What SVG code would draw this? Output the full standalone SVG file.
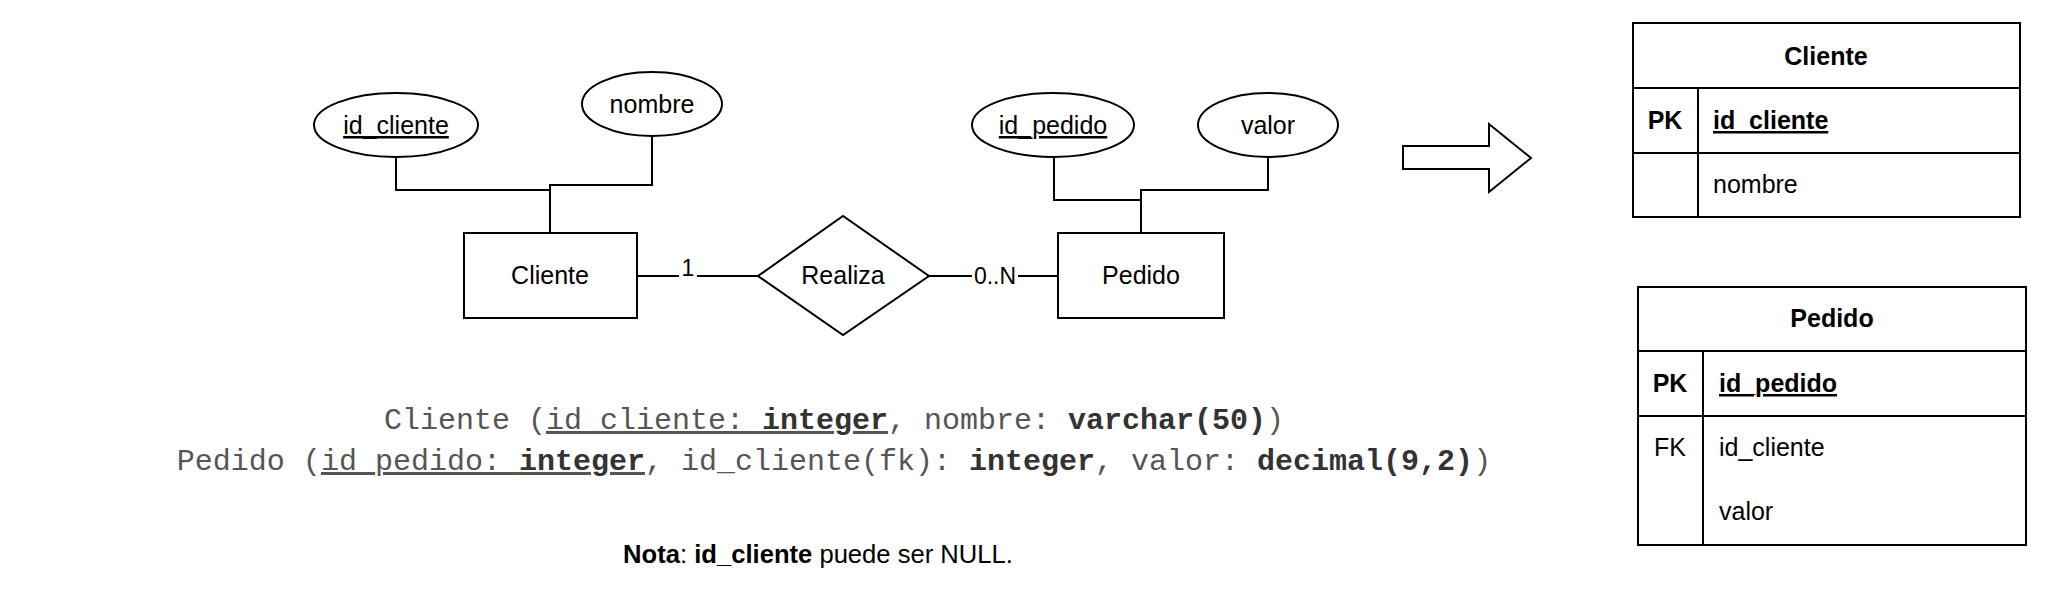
<svg xmlns="http://www.w3.org/2000/svg" width="2048" height="610" viewBox="0 0 2048 610">
<style>
.s{fill:#fff;stroke:#000;stroke-width:2}
.ln{fill:none;stroke:#000;stroke-width:2}
.t{font-family:"Liberation Sans",Arial,sans-serif;font-size:25px;fill:#000}
.c{text-anchor:middle}
.b{font-weight:bold}
.u{text-decoration:underline}
.lbl{font-family:"Liberation Sans",Arial,sans-serif;font-size:23px;fill:#000;text-anchor:middle}
.m{font-family:"Liberation Mono","Courier New",monospace;font-size:30px;fill:#555;text-anchor:middle}
.mb{font-weight:bold;fill:#333}
</style>
<rect width="2048" height="610" fill="#fff"/>
<g id="connectors">
<polyline class="ln" points="396,157 396,190 550,190 550,233"/>
<polyline class="ln" points="652,136 652,185 550,185 550,233"/>
<polyline class="ln" points="1054,157 1054,200 1141,200 1141,233"/>
<polyline class="ln" points="1268,157 1268,190 1141,190 1141,233"/>
<line class="ln" x1="637" y1="276" x2="758" y2="276"/>
<line class="ln" x1="929" y1="276" x2="1058" y2="276"/>
<rect x="679" y="262" width="18" height="26" fill="#fff"/>
<text class="lbl" x="688" y="276">1</text>
<rect x="972" y="264" width="46" height="24" fill="#fff"/>
<text class="lbl" x="995" y="284">0..N</text>
</g>
<g id="attr-id_cliente">
<ellipse class="s" cx="396" cy="125" rx="82" ry="32"/>
<text class="t c u" x="396" y="134">id_cliente</text>
</g>
<g id="attr-nombre">
<ellipse class="s" cx="652" cy="104" rx="70" ry="32"/>
<text class="t c" x="652" y="113">nombre</text>
</g>
<g id="entity-cliente">
<rect class="s" x="464" y="233" width="173" height="85"/>
<text class="t c" x="550" y="284">Cliente</text>
</g>
<g id="rel-realiza">
<polygon class="s" points="758,276 843,216 929,276 843,335"/>
<text class="t c" x="843" y="284">Realiza</text>
</g>
<g id="attr-id_pedido">
<ellipse class="s" cx="1053" cy="125" rx="81" ry="32"/>
<text class="t c u" x="1053" y="134">id_pedido</text>
</g>
<g id="attr-valor">
<ellipse class="s" cx="1268" cy="125" rx="70" ry="32"/>
<text class="t c" x="1268" y="134">valor</text>
</g>
<g id="entity-pedido">
<rect class="s" x="1058" y="233" width="166" height="85"/>
<text class="t c" x="1141" y="284">Pedido</text>
</g>
<g id="schema-text">
<text class="m" x="834" y="429">Cliente (<tspan class="u">id_cliente: <tspan class="mb">integer</tspan></tspan>, nombre: <tspan class="mb">varchar(50)</tspan>)</text>
<text class="m" x="834" y="470">Pedido (<tspan class="u">id_pedido: <tspan class="mb">integer</tspan></tspan>, id_cliente(fk): <tspan class="mb">integer</tspan>, valor: <tspan class="mb">decimal(9,2)</tspan>)</text>
</g>
<g id="nota">
<text class="t c" x="818" y="563" style="font-size:25.6px"><tspan class="b">Nota</tspan>: <tspan class="b">id_cliente</tspan> puede ser NULL.</text>
</g>
<g id="arrow">
<polygon class="s" points="1403,146 1489,146 1489,124 1531,158 1489,192 1489,169 1403,169"/>
</g>
<g id="table-cliente">
<rect class="s" x="1633" y="23" width="387" height="194"/>
<line class="ln" x1="1633" y1="88" x2="2020" y2="88"/>
<line class="ln" x1="1633" y1="153" x2="2020" y2="153"/>
<line class="ln" x1="1698" y1="88" x2="1698" y2="217"/>
<text class="t c b" x="1826" y="65">Cliente</text>
<text class="t c b" x="1665" y="129">PK</text>
<text class="t b u" x="1713" y="129">id_cliente</text>
<text class="t" x="1713" y="193">nombre</text>
</g>
<g id="table-pedido">
<rect class="s" x="1638" y="287" width="388" height="258"/>
<line class="ln" x1="1638" y1="351" x2="2026" y2="351"/>
<line class="ln" x1="1638" y1="416" x2="2026" y2="416"/>
<line class="ln" x1="1703" y1="351" x2="1703" y2="545"/>
<text class="t c b" x="1832" y="327">Pedido</text>
<text class="t c b" x="1670" y="392">PK</text>
<text class="t b u" x="1719" y="392">id_pedido</text>
<text class="t c" x="1670" y="456">FK</text>
<text class="t" x="1719" y="456">id_cliente</text>
<text class="t" x="1719" y="520">valor</text>
</g>
</svg>
